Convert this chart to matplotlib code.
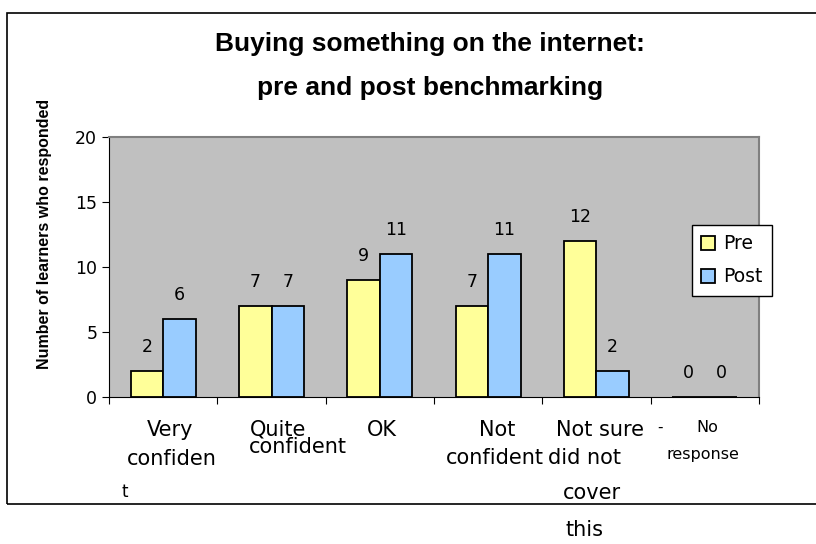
import numpy as np
import matplotlib
matplotlib.use('Agg')
from matplotlib import pyplot as plt
from matplotlib.patches import Rectangle

plt.rcParams['font.family'] = ['DejaVu Sans']

categories = ['Very confident', 'Quite confident', 'OK', 'Not confident',
              'Not sure - did not cover this', 'No response']
pre = [2, 7, 9, 7, 12, 0]
post = [6, 7, 11, 11, 2, 0]
series_names = ['Pre', 'Post']
y_ticks = [0, 5, 10, 15, 20]

# the category labels are wrapped oddly in the original, so each line is placed by hand
# (text, x px, y px, size)
label_lines = [
    ('Very', 170, 430, 15), ('confiden', 172, 459, 15), ('t', 125, 492, 12),
    ('Quite', 278, 429, 15), ('confident', 298, 447, 15),
    ('OK', 382, 430, 15),
    ('Not', 497, 430, 15), ('confident', 495, 458, 15),
    ('Not sure', 600, 430, 15), ('-', 660, 427, 11), ('did not', 585, 458, 15),
    ('cover', 592, 493, 15), ('this', 584, 530, 15),
    ('No', 707, 427, 11.5), ('response', 703, 455, 11.5),
]

W, H = 816, 544
fig = plt.figure(figsize=(W / 100, H / 100), dpi=100)

# outer chart border
fig.patches.append(Rectangle((7 / W, 1 - 504 / H), 1.2, (504 - 13) / H,
                             transform=fig.transFigure, fill=False,
                             edgecolor='black', linewidth=1.2))

ax = fig.add_axes([109 / W, 1 - 397 / H, 650 / W, 260 / H])
ax.set_facecolor('#c0c0c0')

x = np.arange(len(categories))
w = 0.3
b1 = ax.bar(x - w / 2, pre, w, color='#ffff99', edgecolor='black', linewidth=1.3, label=series_names[0])
b2 = ax.bar(x + w / 2, post, w, color='#99ccff', edgecolor='black', linewidth=1.3, label=series_names[1])

for bars, vals in ((b1, pre), (b2, post)):
    for r, v in zip(bars, vals):
        ax.annotate(str(v), (r.get_x() + r.get_width() / 2, v), xytext=(0, 10.5),
                    textcoords='offset points', ha='center', va='bottom', fontsize=12.5)

ax.set_xlim(-0.5, len(categories) - 0.5)
ax.set_ylim(0, 20)
ax.set_yticks(y_ticks)
ax.tick_params(axis='y', labelsize=12.5, length=5, direction='out', color='black')
ax.set_xticks(np.arange(len(categories) + 1) - 0.5)
ax.set_xticklabels([])
ax.tick_params(axis='x', length=5, direction='out')

for s in ('top', 'right'):
    ax.spines[s].set_color('#808080')
    ax.spines[s].set_linewidth(1.5)
for s in ('left', 'bottom'):
    ax.spines[s].set_color('black')

fig.text(45 / W, 1 - 234 / H, 'Number of learners who responded', rotation=90,
         ha='center', va='center', fontsize=11.5, fontweight='bold',
         family=['Liberation Sans', 'DejaVu Sans'])

fig.text(430 / W, 1 - 44 / H, 'Buying something on the internet:', ha='center', va='center',
         fontsize=19, fontweight='bold', family=['Liberation Sans', 'DejaVu Sans'])
fig.text(430 / W, 1 - 88 / H, 'pre and post benchmarking', ha='center', va='center',
         fontsize=19, fontweight='bold', family=['Liberation Sans', 'DejaVu Sans'])

for txt, px, py, size in label_lines:
    fig.text(px / W, 1 - py / H, txt, ha='center', va='center', fontsize=size)

leg = fig.legend(loc='upper left', bbox_to_anchor=(692 / W, 1 - 225 / H), fontsize=13.5,
                 frameon=True, fancybox=False, edgecolor='black', framealpha=1,
                 handlelength=0.75, handleheight=0.75, handletextpad=0.4,
                 borderpad=0.5, labelspacing=0.75, borderaxespad=0)
leg.get_frame().set_linewidth(1.0)

fig.savefig('out.png', dpi=100)
